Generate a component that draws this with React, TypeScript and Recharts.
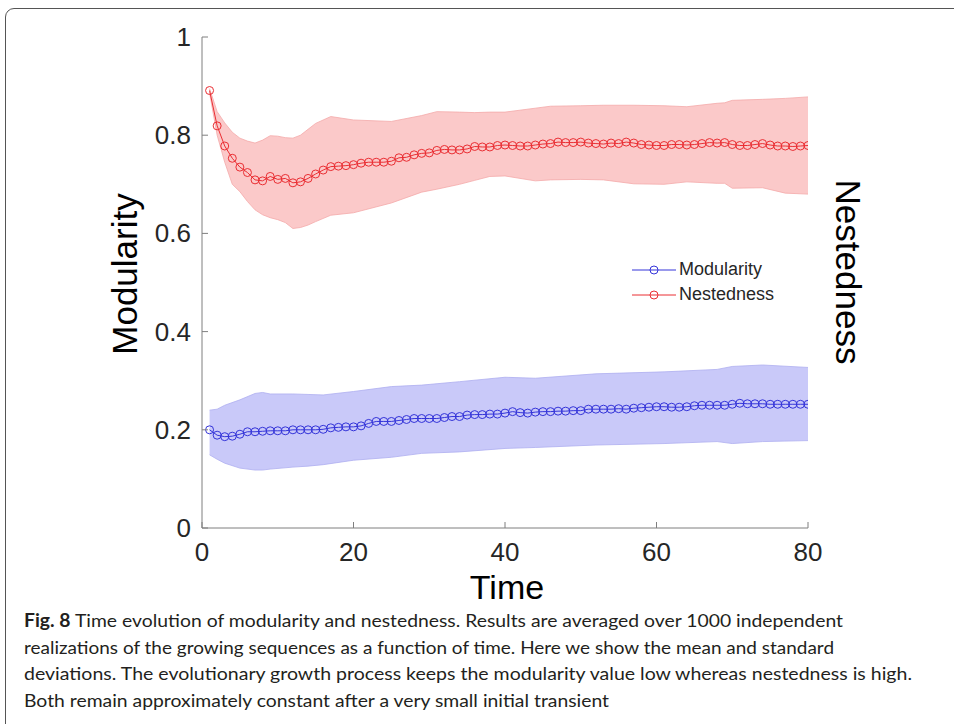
import React from 'react';
import { ComposedChart, Area, Line, XAxis, YAxis, Legend } from 'recharts';

// time steps of the growing sequence
const time = Array.from({ length: 80 }, (_, i) => i + 1);

// mean values, t = 1..80
const modularity = [
  0.200, 0.189, 0.186, 0.187, 0.191, 0.196, 0.196, 0.197, 0.198, 0.198,
  0.198, 0.200, 0.200, 0.200, 0.200, 0.201, 0.204, 0.205, 0.206, 0.206,
  0.208, 0.213, 0.217, 0.217, 0.217, 0.219, 0.221, 0.223, 0.223, 0.223,
  0.223, 0.225, 0.227, 0.227, 0.230, 0.231, 0.231, 0.232, 0.232, 0.234,
  0.237, 0.235, 0.234, 0.236, 0.237, 0.237, 0.238, 0.238, 0.239, 0.239,
  0.242, 0.242, 0.242, 0.242, 0.243, 0.242, 0.244, 0.245, 0.246, 0.247,
  0.247, 0.246, 0.246, 0.247, 0.249, 0.250, 0.250, 0.250, 0.250, 0.252,
  0.254, 0.253, 0.253, 0.253, 0.252, 0.252, 0.252, 0.252, 0.252, 0.252,
];

const nestedness = [
  0.891, 0.819, 0.778, 0.753, 0.735, 0.724, 0.709, 0.707, 0.716, 0.710,
  0.712, 0.703, 0.705, 0.712, 0.721, 0.729, 0.736, 0.737, 0.738, 0.740,
  0.743, 0.745, 0.745, 0.745, 0.747, 0.754, 0.755, 0.760, 0.763, 0.764,
  0.769, 0.771, 0.770, 0.770, 0.772, 0.777, 0.776, 0.776, 0.779, 0.780,
  0.779, 0.778, 0.778, 0.780, 0.782, 0.783, 0.786, 0.785, 0.785, 0.786,
  0.784, 0.783, 0.782, 0.784, 0.783, 0.786, 0.784, 0.781, 0.780, 0.779,
  0.779, 0.781, 0.781, 0.780, 0.781, 0.783, 0.785, 0.784, 0.785, 0.781,
  0.779, 0.779, 0.781, 0.783, 0.780, 0.778, 0.778, 0.777, 0.778, 0.779,
];

// standard deviation envelopes (lower / upper), read at these time steps
const modBandT = [1, 2, 3, 5, 7, 8, 9, 12, 14, 16, 20, 25, 29, 34, 40, 44, 52, 61, 68, 70, 74, 80];
const modBandLo = [0.149, 0.140, 0.132, 0.122, 0.118, 0.118, 0.120, 0.124, 0.126, 0.129, 0.138, 0.144, 0.152, 0.155, 0.162, 0.164, 0.169, 0.172, 0.176, 0.172, 0.176, 0.178];
const modBandHi = [0.240, 0.242, 0.250, 0.261, 0.274, 0.276, 0.273, 0.273, 0.272, 0.271, 0.278, 0.288, 0.291, 0.298, 0.307, 0.305, 0.314, 0.318, 0.323, 0.329, 0.332, 0.327];

const nestBandT = [1, 2, 3, 4, 5, 6, 7, 8, 9, 10, 11, 12, 13, 14, 15, 17, 20, 25, 29, 31, 34, 36, 38, 40, 44, 46, 50, 53, 57, 61, 64, 68, 69, 70, 74, 77, 80];
const nestBandLo = [0.886, 0.800, 0.745, 0.700, 0.685, 0.665, 0.648, 0.638, 0.632, 0.628, 0.622, 0.610, 0.612, 0.617, 0.624, 0.637, 0.642, 0.662, 0.684, 0.690, 0.700, 0.708, 0.716, 0.717, 0.707, 0.709, 0.710, 0.709, 0.701, 0.700, 0.705, 0.702, 0.702, 0.692, 0.693, 0.682, 0.680];
const nestBandHi = [0.895, 0.848, 0.825, 0.806, 0.794, 0.788, 0.784, 0.790, 0.799, 0.798, 0.795, 0.794, 0.800, 0.812, 0.824, 0.838, 0.831, 0.828, 0.840, 0.848, 0.847, 0.846, 0.847, 0.847, 0.855, 0.859, 0.860, 0.861, 0.861, 0.860, 0.858, 0.865, 0.866, 0.871, 0.873, 0.875, 0.878];

const xTicks = [0, 20, 40, 60, 80];
const yTicks = [0, 0.2, 0.4, 0.6, 0.8, 1];

const captionLines = [
  'realizations of the growing sequences as a function of time. Here we show the mean and standard',
  'deviations. The evolutionary growth process keeps the modularity value low whereas nestedness is high.',
  'Both remain approximately constant after a very small initial transient',
];

const BLUE = '#3434d9';
const RED = '#ea2e33';
const AXIS = '#7f7f7f';
const TXT = '#262626';
const FONT = '"Liberation Sans", Arial, Helvetica, sans-serif';

const lineData = time.map((t, i) => ({ t, mod: modularity[i], nest: nestedness[i] }));
const modBand = modBandT.map((t, i) => ({ t, range: [modBandLo[i], modBandHi[i]] }));
const nestBand = nestBandT.map((t, i) => ({ t, range: [nestBandLo[i], nestBandHi[i]] }));

const YTick = (props: any) => {
  const { x, y, payload } = props;
  return (
    <g>
      <line x1={x} y1={y} x2={x + 6} y2={y} stroke={AXIS} strokeWidth={1} />
      <text x={x - 11} y={y + 9} textAnchor="end" fill={TXT} fontSize={26} fontFamily={FONT}>
        {payload.value}
      </text>
    </g>
  );
};

const XTick = (props: any) => {
  const { x, y, payload } = props;
  return (
    <g>
      <line x1={x} y1={y} x2={x} y2={y - 6} stroke={AXIS} strokeWidth={1} />
      <text x={x} y={y + 33} textAnchor="middle" fill={TXT} fontSize={26} fontFamily={FONT}>
        {payload.value}
      </text>
    </g>
  );
};

const LegendBox = () => {
  const rows = [
    { name: 'Modularity', color: BLUE },
    { name: 'Nestedness', color: RED },
  ];
  return (
    <div>
      {rows.map((r) => (
        <div key={r.name} style={{ display: 'flex', alignItems: 'center', height: 25 }}>
          <svg width={47} height={12}>
            <line x1={1} y1={6} x2={45} y2={6} stroke={r.color} strokeWidth={1} />
            <circle cx={23} cy={6} r={4} fill="none" stroke={r.color} strokeWidth={1} />
          </svg>
          <span style={{ fontFamily: FONT, fontSize: 18, color: TXT, marginLeft: 1 }}>{r.name}</span>
        </div>
      ))}
    </div>
  );
};

export default function App() {
  return (
    <div style={{ position: 'absolute', left: 0, top: 0, width: 954, height: 724, overflow: 'hidden', background: '#fff' }}>
      <div
        style={{
          position: 'absolute', left: 5, top: 8, width: 1000, height: 800,
          border: '1px solid #555', borderRadius: 9, boxSizing: 'border-box',
        }}
      />
      <div style={{ position: 'absolute', left: 0, top: 0 }}>
        <ComposedChart
          width={954}
          height={600}
          data={lineData}
          margin={{ top: 37, right: 146, left: 142, bottom: 32 }}
        >
          <XAxis
            dataKey="t"
            type="number"
            domain={[0, 80]}
            ticks={xTicks}
            allowDataOverflow
            height={40}
            tickSize={0}
            tickMargin={0}
            tickLine={false}
            axisLine={{ stroke: AXIS }}
            tick={<XTick />}
          />
          <YAxis
            type="number"
            domain={[0, 1]}
            ticks={yTicks}
            width={60}
            tickSize={0}
            tickMargin={0}
            tickLine={false}
            axisLine={{ stroke: AXIS }}
            tick={<YTick />}
          />
          <Legend
            layout="vertical"
            align="center"
            verticalAlign="middle"
            content={<LegendBox />}
            wrapperStyle={{ left: 631, top: 257, width: 170, height: 50 }}
          />
          <Area
            data={nestBand}
            dataKey="range"
            type="linear"
            fill="#fbc9c9"
            fillOpacity={1}
            stroke="#f4a9a9"
            strokeWidth={0.8}
            legendType="none"
            isAnimationActive={false}
          />
          <Area
            data={modBand}
            dataKey="range"
            type="linear"
            fill="#c9c9f9"
            fillOpacity={1}
            stroke="#aeaef0"
            strokeWidth={0.8}
            legendType="none"
            isAnimationActive={false}
          />
          <Line
            dataKey="mod"
            name="Modularity"
            type="linear"
            stroke={BLUE}
            strokeWidth={1}
            dot={{ r: 4, fill: 'none', stroke: BLUE, strokeWidth: 1 }}
            activeDot={false}
            isAnimationActive={false}
          />
          <Line
            dataKey="nest"
            name="Nestedness"
            type="linear"
            stroke={RED}
            strokeWidth={1}
            dot={{ r: 4, fill: 'none', stroke: RED, strokeWidth: 1 }}
            activeDot={false}
            isAnimationActive={false}
          />
        </ComposedChart>
      </div>
      <svg width={954} height={724} style={{ position: 'absolute', left: 0, top: 0, pointerEvents: 'none' }}>
        <text x={507} y={599} textAnchor="middle" fontSize={34} fontFamily={FONT} fill="#000">Time</text>
        <text
          x={0}
          y={0}
          transform="translate(137 274) rotate(-90)"
          textAnchor="middle"
          fontSize={35}
          fontFamily={FONT}
          fill="#000"
        >
          Modularity
        </text>
        <text
          x={0}
          y={0}
          transform="translate(836 272) rotate(90)"
          textAnchor="middle"
          fontSize={35}
          fontFamily={FONT}
          fill="#000"
        >
          Nestedness
        </text>
        <g fontFamily={'Lato, "Liberation Sans Narrow", sans-serif'} fontSize={18} fill="#231f20">
          <text x={24} y={627} textLength={819} lengthAdjust="spacingAndGlyphs">
            <tspan fontWeight="bold">Fig. 8</tspan>
            <tspan>{'  Time evolution of modularity and nestedness. Results are averaged over 1000 independent'}</tspan>
          </text>
          {captionLines.map((s, i) => (
            <text
              key={i}
              x={24}
              y={653.5 + i * 26.5}
              textLength={[810, 888, 585][i]}
              lengthAdjust="spacingAndGlyphs"
            >
              {s}
            </text>
          ))}
        </g>
      </svg>
    </div>
  );
}
